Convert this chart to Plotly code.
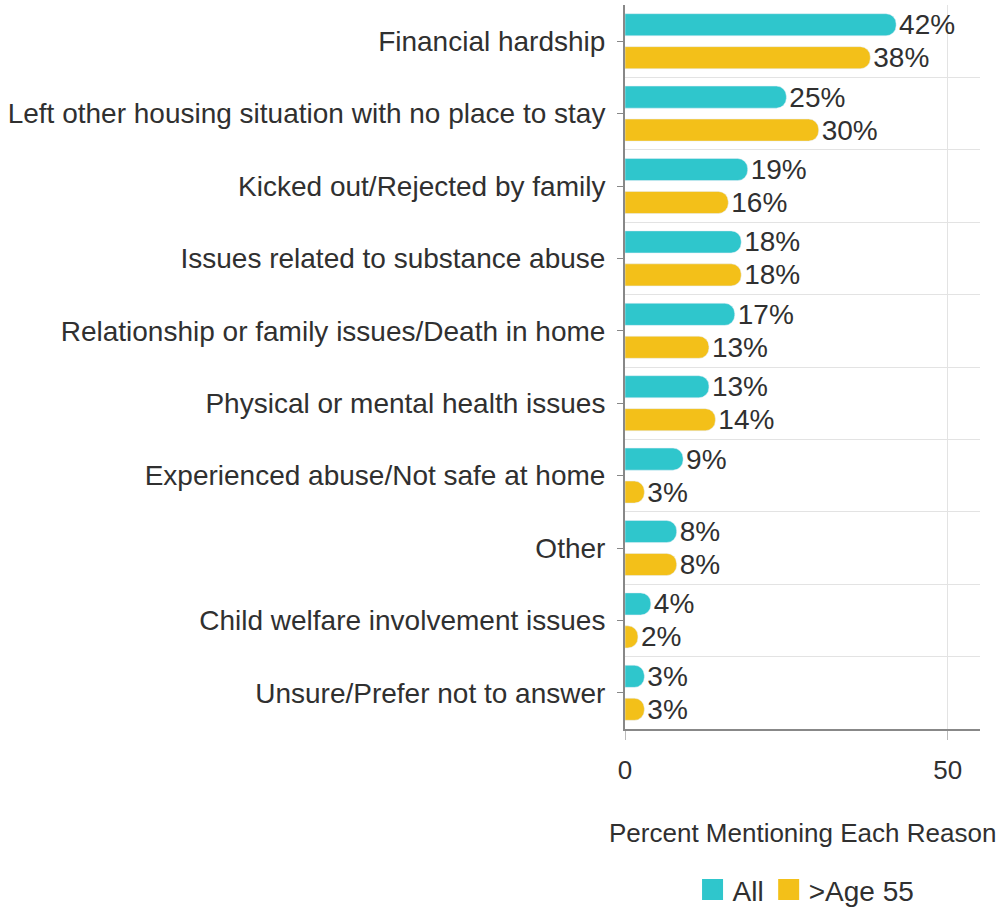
"""Reasons for homelessness: all respondents vs. those over age 55."""

import plotly.graph_objects as go

reasons = [
    "Financial hardship",
    "Left other housing situation with no place to stay",
    "Kicked out/Rejected by family",
    "Issues related to substance abuse",
    "Relationship or family issues/Death in home",
    "Physical or mental health issues",
    "Experienced abuse/Not safe at home",
    "Other",
    "Child welfare involvement issues",
    "Unsure/Prefer not to answer",
]
pct_all = [42, 25, 19, 18, 17, 13, 9, 8, 4, 3]
pct_over55 = [38, 30, 16, 18, 13, 14, 3, 8, 2, 3]

series = [
    ("All", pct_all, "#2FC6CC"),
    (">Age 55", pct_over55, "#F3C019"),
]

TEXT = "#303030"
FONT = "Liberation Sans, Arial, sans-serif"

fig = go.Figure()

for name, values, colour in series:
    fig.add_trace(
        go.Bar(
            y=reasons,
            x=values,
            orientation="h",
            name=name,
            marker=dict(color=colour, cornerradius=10),
            text=[f"{v}%" for v in values],
            textposition="outside",
            constraintext="none",
            textfont=dict(size=28, color=TEXT),
            cliponaxis=False,
            showlegend=False,
        )
    )
    # legend entry with a larger swatch than the bar default
    fig.add_trace(
        go.Scatter(
            x=[None],
            y=[None],
            mode="markers",
            name=name,
            marker=dict(
                symbol="square",
                size=28,
                color=colour,
                line=dict(color=colour, width=6),
            ),
            yaxis="y2",
        )
    )

n = len(reasons)
fig.update_layout(
    width=998,
    height=909,
    paper_bgcolor="white",
    plot_bgcolor="white",
    font=dict(family=FONT, size=28, color=TEXT),
    margin=dict(l=625, r=18, t=5, b=180),
    barmode="group",
    bargap=0.09,
    bargroupgap=0.33,
    xaxis=dict(
        range=[0, 55],
        tickvals=[0, 50],
        ticks="outside",
        ticklen=9,
        tickcolor="#BBBBBB",
        ticklabelstandoff=8,
        showgrid=True,
        gridcolor="#E3E3E3",
        zeroline=False,
        showline=True,
        linecolor="#888888",
        linewidth=2,
        tickfont=dict(size=26, color=TEXT),
    ),
    yaxis=dict(
        categoryorder="array",
        categoryarray=reasons,
        range=[n - 0.5, -0.5],
        ticks="outside",
        ticklen=6,
        tickcolor="#888888",
        ticklabelstandoff=6,
        showgrid=False,
        showline=True,
        linecolor="#888888",
        linewidth=2,
        tickfont=dict(size=28, color=TEXT),
    ),
    # linear overlay only used for the separator lines between categories
    yaxis2=dict(
        overlaying="y",
        range=[n - 0.5, -0.5],
        tickvals=[i + 0.5 for i in range(n - 1)],
        showticklabels=False,
        showgrid=True,
        gridcolor="#E3E3E3",
        zeroline=False,
        ticks="",
    ),
    legend=dict(
        orientation="h",
        x=0.51,
        xanchor="center",
        yref="container",
        y=0.021,
        yanchor="middle",
        itemsizing="trace",
        font=dict(size=28, color=TEXT),
    ),
    annotations=[
        dict(
            text="Percent Mentioning Each Reason",
            xref="paper",
            yref="paper",
            x=0.5,
            y=-0.1436,
            xanchor="center",
            yanchor="middle",
            showarrow=False,
            font=dict(size=26, color=TEXT),
        )
    ],
)

fig.write_html(
    "out.html",
    config={"displayModeBar": False},
    post_script="document.body.style.margin='0';",
)
